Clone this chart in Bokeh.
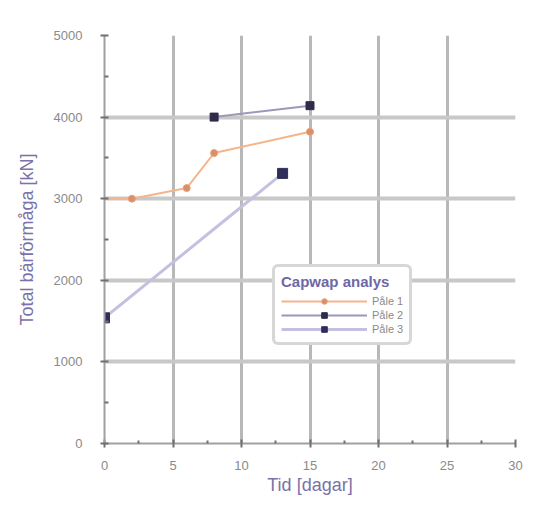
from bokeh.plotting import figure
from bokeh.models import Range1d, FixedTicker, Legend, LegendItem
from bokeh.embed import file_html
from bokeh.resources import INLINE

# data
s1_x = [0, 2, 6, 8, 15]
s1_y = [3000, 3000, 3130, 3560, 3820]
s2_x = [8, 15]
s2_y = [4000, 4140]
s3_x = [0, 13]
s3_y = [1540, 3310]
series_names = ["Påle 1", "Påle 2", "Påle 3"]
legend_title = "Capwap analys"
x_ticks = [0, 5, 10, 15, 20, 25, 30]
y_ticks = [0, 1000, 2000, 3000, 4000, 5000]

p = figure(width=526, height=498, output_backend="svg", toolbar_location=None,
           x_range=Range1d(0, 30), y_range=Range1d(0, 5000),
           min_border_left=104, min_border_right=11, min_border_top=35, min_border_bottom=55)
p.outline_line_color = None
p.background_fill_color = "white"

p.xaxis.ticker = FixedTicker(ticks=x_ticks, minor_ticks=[2.5, 7.5, 12.5, 17.5, 22.5, 27.5])
p.yaxis.ticker = FixedTicker(ticks=y_ticks, minor_ticks=[500, 1500, 2500, 3500, 4500])

p.xgrid.grid_line_color = "#b8b8b8"
p.xgrid.grid_line_width = 3
p.ygrid.grid_line_color = "#c8c8c8"
p.ygrid.grid_line_width = 4
p.xgrid.grid_line_alpha = 1
p.ygrid.grid_line_alpha = 1

for ax in (p.xaxis, p.yaxis):
    ax.axis_line_color = "#a0a0a0"
    ax.axis_line_width = 2
    ax.major_tick_line_color = "#707070"
    ax.minor_tick_line_color = "#707070"
    ax.major_tick_line_width = 2
    ax.minor_tick_line_width = 2
    ax.major_label_text_color = "#8a8a8a"
    ax.major_label_text_font = "Liberation Sans"
    ax.major_label_text_font_size = "13px"
    ax.axis_label_text_color = "#7a72a8"
    ax.axis_label_text_font = "Liberation Sans"
    ax.axis_label_text_font_size = "18px"
    ax.axis_label_text_font_style = "normal"

p.xaxis.major_tick_in = 4
p.xaxis.major_tick_out = 4
p.xaxis.minor_tick_in = 3
p.xaxis.minor_tick_out = 0
p.yaxis.major_tick_in = 4
p.yaxis.major_tick_out = 4
p.yaxis.minor_tick_in = 4
p.yaxis.minor_tick_out = 0
p.xaxis.major_label_standoff = 13
p.yaxis.major_label_standoff = 18
p.yaxis.axis_label_standoff = 14
p.xaxis.axis_label_standoff = 2
p.xaxis.axis_label = "Tid [dagar]"
p.yaxis.axis_label = "Total bärförmåga [kN]"

l1 = p.line(s1_x, s1_y, line_color="#f4b48c", line_width=2)
m1 = p.scatter(s1_x[1:], s1_y[1:], marker="circle", size=7, fill_color="#d9906a", line_color="#e8a07a")
l2 = p.line(s2_x, s2_y, line_color="#9c98b8", line_width=2)
m2 = p.scatter(s2_x, s2_y, marker="square", size=8, fill_color="#2e2c48", line_color="#2e2c48")
l3 = p.line(s3_x, s3_y, line_color="#c4c0e0", line_width=3)
m3 = p.scatter(s3_x, s3_y, marker="square", size=10, fill_color="#2f2d5a", line_color="#2f2d5a")

legend = Legend(items=[LegendItem(label=series_names[0], renderers=[l1, m1]),
                       LegendItem(label=series_names[1], renderers=[l2, m2]),
                       LegendItem(label=series_names[2], renderers=[l3, m3])],
                location=(168, 98), title=legend_title)
legend.title_text_color = "#6e68a8"
legend.title_text_font = "Liberation Sans"
legend.title_text_font_size = "15px"
legend.title_text_font_style = "bold"
legend.title_standoff = 4
legend.label_text_color = "#8a8a8a"
legend.label_text_font = "Liberation Sans"
legend.label_text_font_size = "11px"
legend.glyph_width = 86
legend.glyph_height = 14
legend.label_height = 14
legend.spacing = 0
legend.padding = 6
legend.margin = 0
legend.border_line_color = "#b0b0b0"
legend.border_line_width = 3
legend.border_radius = 6
legend.background_fill_color = "white"
legend.background_fill_alpha = 1
p.add_layout(legend, "center")

open("out.html", "w").write(file_html(p, INLINE))
